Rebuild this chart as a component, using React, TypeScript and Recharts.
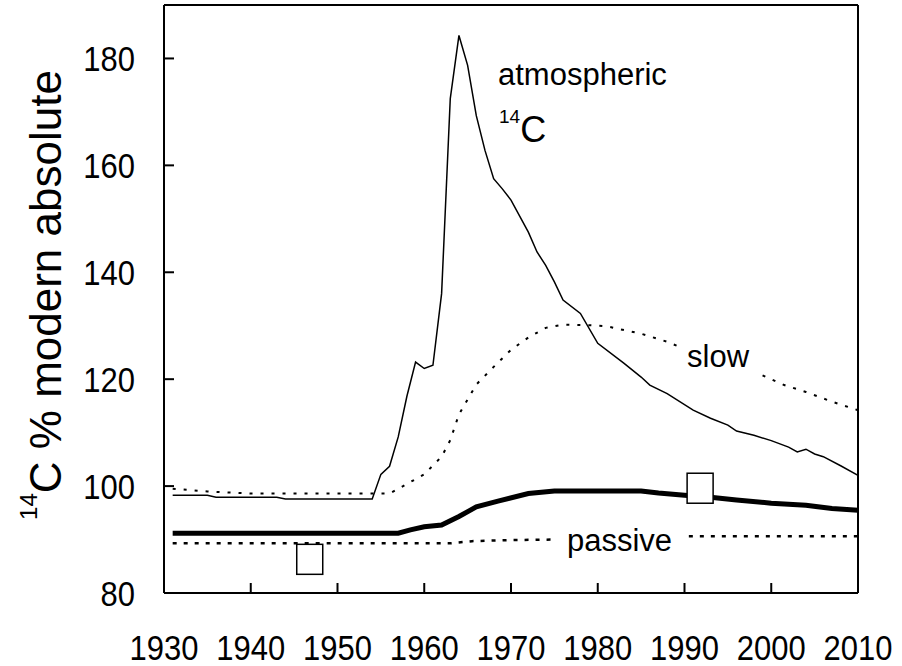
import {
  ComposedChart,
  Line,
  Scatter,
  XAxis,
  YAxis,
  ReferenceLine,
} from 'recharts';

// year / value pairs
const atmYears = [1931, 1935, 1936, 1943, 1944, 1954, 1955, 1956, 1957, 1958, 1959, 1960, 1961, 1962, 1963, 1964, 1965, 1966, 1967, 1968, 1969, 1970, 1972, 1973, 1974, 1975, 1976, 1978, 1980, 1983, 1985, 1986, 1988, 1991, 1993, 1995, 1996, 1998, 2000, 2002, 2003, 2004, 2005, 2006, 2008, 2010];
const atmValues = [98.3, 98.3, 97.9, 97.9, 97.6, 97.6, 102.2, 103.7, 109.2, 116.8, 123.2, 122.0, 122.6, 136.0, 172.5, 184.3, 178.7, 169.3, 162.8, 157.5, 155.6, 153.5, 147.5, 143.8, 141.3, 138.2, 134.8, 132.3, 126.7, 123.0, 120.4, 118.9, 117.3, 114.2, 112.7, 111.4, 110.3, 109.5, 108.5, 107.3, 106.4, 106.9, 106.0, 105.5, 103.8, 102.0];

const slowYears = [1931, 1935, 1940, 1956, 1957, 1960, 1962, 1963, 1964, 1966, 1968, 1970, 1972, 1974, 1976, 1979, 1981, 1985, 1988, 1989.5, 1994, 1999, 2001.5, 2004, 2007, 2010];
const slowValues = [99.5, 99.0, 98.6, 98.6, 99.5, 102.2, 105.5, 108.6, 113.4, 119.0, 122.3, 125.5, 127.8, 129.6, 130.2, 130.1, 129.9, 128.5, 127.0, 126.0, null, 120.7, 118.9, 117.6, 115.8, 114.2];

const passiveYears = [1931, 1963, 1965.5, 1970, 1975, 1982, 1990.5, 2010];
const passiveValues = [89.3, 89.3, 89.7, 89.9, 90.0, null, 90.6, 90.6];

const totalYears = [1931, 1957, 1958.4, 1960, 1962, 1964, 1966, 1968.5, 1972, 1975, 1985, 1987, 1990, 1993, 1996, 2000, 2004, 2007, 2010];
const totalValues = [91.2, 91.2, 91.8, 92.4, 92.7, 94.3, 96.1, 97.2, 98.6, 99.1, 99.1, 98.7, 98.3, 97.9, 97.4, 96.8, 96.4, 95.8, 95.5];

const sampleYears = [1946.8, 1991.8];
const sampleValues = [86.3, 99.6];

const xTicks = [1930, 1940, 1950, 1960, 1970, 1980, 1990, 2000, 2010];
const yTicks = [80, 100, 120, 140, 160, 180];

const pairs = (xs: number[], vs: (number | null)[]) => xs.map((year, i) => ({ year, v: vs[i] }));

const atm = pairs(atmYears, atmValues);
const slow = pairs(slowYears, slowValues);
const passive = pairs(passiveYears, passiveValues);
const total = pairs(totalYears, totalValues);
const samples = pairs(sampleYears, sampleValues);

const FONT = '"Liberation Sans", Arial, sans-serif';
const PLOT_LEFT = 164;
const PLOT_BOTTOM = 593;

// ticks point inward, labels slightly tall like the original
const XTick = (props: any) => {
  const { x, payload } = props;
  return (
    <g>
      <line x1={x} x2={x} y1={PLOT_BOTTOM} y2={PLOT_BOTTOM - 10} stroke="#000" strokeWidth={2} />
      <text transform={`translate(${x} 660) scale(1 1.15)`} textAnchor="middle" fontFamily={FONT} fontSize={31} fill="#000">
        {payload.value}
      </text>
    </g>
  );
};

const YTick = (props: any) => {
  const { y, payload } = props;
  return (
    <g>
      <line x1={PLOT_LEFT} x2={PLOT_LEFT + 10} y1={y} y2={y} stroke="#000" strokeWidth={2} />
      <text transform={`translate(135 ${y + 13}) scale(1 1.15)`} textAnchor="end" fontFamily={FONT} fontSize={31} fill="#000">
        {payload.value}
      </text>
    </g>
  );
};

const Square = (props: any) => {
  const { cx, cy } = props;
  return <rect x={cx - 13} y={cy - 15} width={26} height={30} fill="#fff" stroke="#000" strokeWidth={1.5} />;
};

export default function App() {
  return (
    <div style={{ position: 'absolute', left: 0, top: 0 }}>
      <ComposedChart width={902} height={666} margin={{ top: 5, right: 44, bottom: 13, left: 64 }}>
        <XAxis
          type="number"
          dataKey="year"
          domain={[1930, 2010]}
          ticks={xTicks}
          height={60}
          tickLine={false}
          axisLine={{ stroke: '#000', strokeWidth: 2 }}
          tick={(p: any) => <XTick {...p} />}
        />
        <YAxis
          type="number"
          domain={[80, 190]}
          ticks={yTicks}
          width={100}
          tickLine={false}
          axisLine={{ stroke: '#000', strokeWidth: 2 }}
          tick={(p: any) => <YTick {...p} />}
        />
        <ReferenceLine y={190} stroke="#000" strokeWidth={2} />
        <ReferenceLine x={2010} stroke="#000" strokeWidth={2} />
        <Line data={atm} dataKey="v" type="linear" stroke="#000" strokeWidth={1.5} dot={false} isAnimationActive={false} />
        <Line data={slow} dataKey="v" type="linear" stroke="#000" strokeWidth={2} strokeDasharray="3 8" dot={false} connectNulls={false} isAnimationActive={false} />
        <Line data={passive} dataKey="v" type="linear" stroke="#000" strokeWidth={2.5} strokeDasharray="4 7" dot={false} connectNulls={false} isAnimationActive={false} />
        <Line data={total} dataKey="v" type="linear" stroke="#000" strokeWidth={5} dot={false} isAnimationActive={false} />
        <Scatter data={samples} dataKey="v" shape={Square} isAnimationActive={false} />
        <text x={61} y={295} transform="rotate(-90 61 295)" textAnchor="middle" fontFamily={FONT} fill="#000">
          <tspan fontSize={24} dy={-24}>14</tspan>
          <tspan fontSize={44} dy={24}>C % modern absolute</tspan>
        </text>
        <text x={498} y={85} fontFamily={FONT} fontSize={31} fill="#000">atmospheric</text>
        <text x={499} y={142} fontFamily={FONT} fill="#000">
          <tspan fontSize={19} dy={-19}>14</tspan>
          <tspan fontSize={36} dy={19}>C</tspan>
        </text>
        <text x={687} y={367} fontFamily={FONT} fontSize={31} fill="#000">slow</text>
        <text x={567} y={551} fontFamily={FONT} fontSize={31} fill="#000">passive</text>
      </ComposedChart>
    </div>
  );
}
